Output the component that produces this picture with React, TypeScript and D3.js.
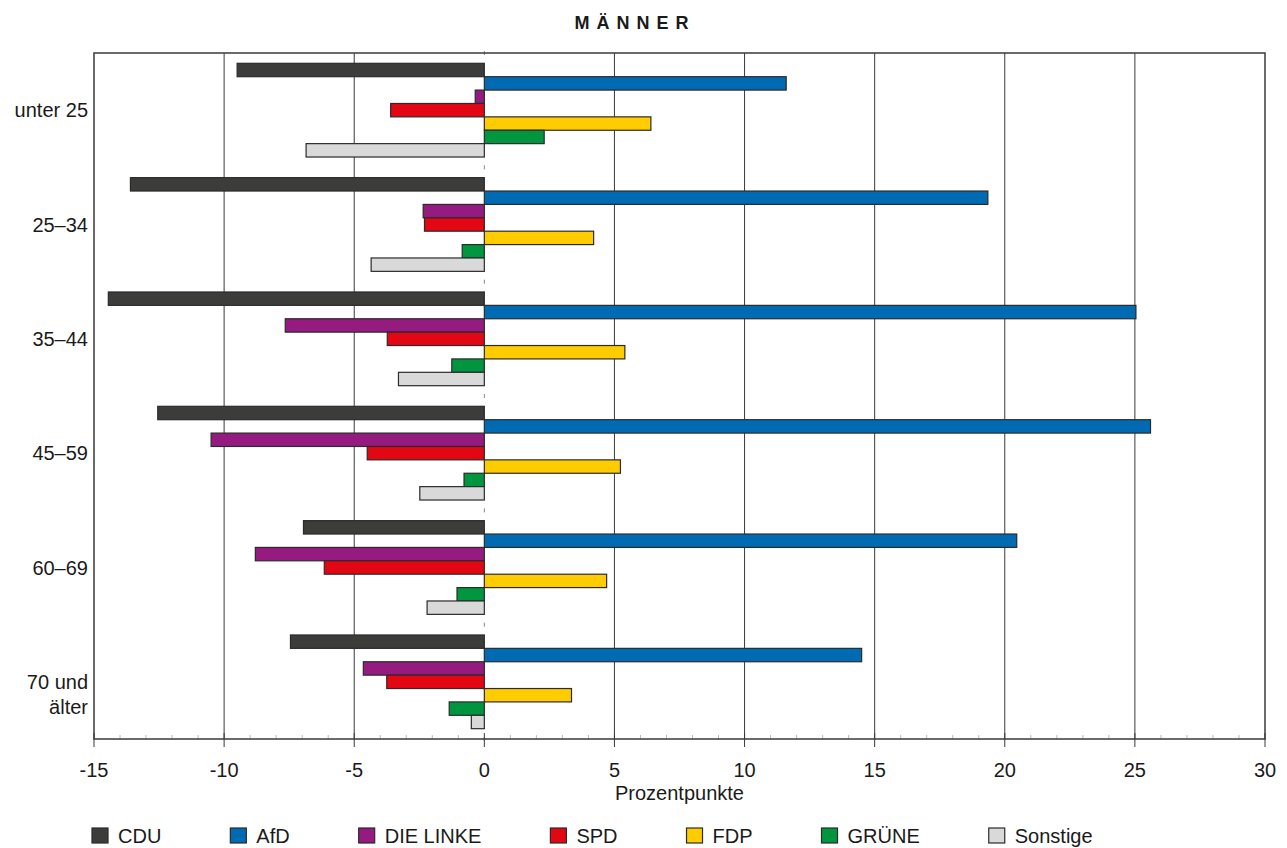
import React, { useEffect, useRef } from "react";
import * as d3 from "d3";

const categories = ["unter 25", "25–34", "35–44", "45–59", "60–69", "70 und\nälter"];
const parties = ["CDU", "AfD", "DIE LINKE", "SPD", "FDP", "GRÜNE", "Sonstige"];
const colors = ["#3c3c3b", "#006ab3", "#951b81", "#e30613", "#ffcc00", "#009640", "#d9d9d9"];

const cdu = [-9.5, -13.6, -14.45, -12.55, -6.95, -7.45];
const afd = [11.6, 19.35, 25.04, 25.6, 20.46, 14.5];
const linke = [-0.35, -2.35, -7.65, -10.5, -8.8, -4.65];
const spd = [-3.6, -2.3, -3.73, -4.5, -6.15, -3.75];
const fdp = [6.4, 4.2, 5.4, 5.23, 4.7, 3.35];
const gruene = [2.3, -0.85, -1.25, -0.78, -1.05, -1.35];
const sonstige = [-6.85, -4.35, -3.3, -2.48, -2.2, -0.5];

const seriesValues = [cdu, afd, linke, spd, fdp, gruene, sonstige];
const xTicks = [-15, -10, -5, 0, 5, 10, 15, 20, 25, 30];

const title = "MÄNNER";
const xLabel = "Prozentpunkte";

export default function App() {
  const ref = useRef<SVGSVGElement>(null);

  useEffect(() => {
    document.body.style.margin = "0";
    const svg = d3.select(ref.current);
    svg.selectAll("*").remove();
    const font = "'Liberation Sans', Arial, sans-serif";
    const fs = 20;

    const left = 94, right = 1265, top = 53, bottom = 739;
    const x = d3.scaleLinear().domain([-15, 30]).range([left, right]);
    const y = d3.scaleBand<string>().domain(categories).range([top, bottom]).padding(0);
    const yi = d3.scaleBand<string>().domain(parties).range([0, y.bandwidth()]).paddingInner(0).paddingOuter(0.77);

    // minor ticks
    const minor = d3.range(-15, 31, 1).filter((v) => v % 5 !== 0);
    svg.append("g").selectAll("line").data(minor).join("line")
      .attr("x1", (d) => x(d)).attr("x2", (d) => x(d))
      .attr("y1", bottom - 4).attr("y2", bottom)
      .attr("stroke", "#bbb").attr("stroke-width", 1);

    // gridlines
    svg.append("g").selectAll("line").data(xTicks.filter((d) => d !== 0 && d !== -15 && d !== 30)).join("line")
      .attr("x1", (d) => x(d)).attr("x2", (d) => x(d))
      .attr("y1", top).attr("y2", bottom)
      .attr("stroke", "#3a3a3a").attr("stroke-width", 1);

    // zero ticks at category boundaries
    const bounds = categories.map((c) => y(c)!).concat([bottom]);
    svg.append("g").selectAll("line").data(bounds).join("line")
      .attr("x1", x(0)).attr("x2", x(0))
      .attr("y1", (d) => d - 2).attr("y2", (d) => d + 2)
      .attr("stroke", "#888").attr("stroke-width", 1);

    // bars
    parties.forEach((p, si) => {
      svg.append("g").selectAll("rect").data(seriesValues[si]).join("rect")
        .attr("x", (d) => x(Math.min(0, d)))
        .attr("width", (d) => Math.abs(x(d) - x(0)))
        .attr("y", (_d, i) => y(categories[i])! + yi(p)!)
        .attr("height", yi.bandwidth())
        .attr("fill", colors[si])
        .attr("stroke", "#2b2b2b")
        .attr("stroke-width", 1.2);
    });

    // frame
    svg.append("rect").attr("x", left).attr("y", top).attr("width", right - left).attr("height", bottom - top)
      .attr("fill", "none").attr("stroke", "#3a3a3a").attr("stroke-width", 1.5);

    // major ticks
    svg.append("g").selectAll("line").data(xTicks).join("line")
      .attr("x1", (d) => x(d)).attr("x2", (d) => x(d))
      .attr("y1", bottom - 6).attr("y2", bottom + 8)
      .attr("stroke", "#3a3a3a").attr("stroke-width", 1);

    svg.append("g").selectAll("text").data(xTicks).join("text")
      .attr("x", (d) => x(d)).attr("y", 777)
      .attr("text-anchor", "middle").attr("font-family", font).attr("font-size", fs).attr("fill", "#1a1a1a")
      .text((d) => String(d));

    svg.append("text").attr("x", (left + right) / 2).attr("y", 800)
      .attr("text-anchor", "middle").attr("font-family", font).attr("font-size", fs).attr("fill", "#1a1a1a")
      .text(xLabel);

    // category labels
    categories.forEach((c) => {
      const lines = c.split("\n");
      const cy = y(c)! + y.bandwidth() / 2;
      const t = svg.append("text").attr("x", 88).attr("y", cy + 7)
        .attr("text-anchor", "end").attr("font-family", font).attr("font-size", fs).attr("fill", "#1a1a1a");
      lines.forEach((l, i) => {
        t.append("tspan").attr("x", 88).attr("dy", i === 0 ? 0 : 25).text(l);
      });
    });

    // title
    svg.append("text").attr("x", 635).attr("y", 29)
      .attr("text-anchor", "middle").attr("font-family", font).attr("font-size", 18).attr("font-weight", "bold")
      .attr("letter-spacing", 7).attr("fill", "#1a1a1a")
      .text(title);

    // legend
    let lx = 92;
    const ly = 828;
    parties.forEach((p, si) => {
      const g = svg.append("g");
      g.append("rect").attr("x", lx).attr("y", ly).attr("width", 16).attr("height", 15)
        .attr("fill", colors[si]).attr("stroke", "#2b2b2b").attr("stroke-width", 1.2);
      const t = g.append("text").attr("x", lx + 26).attr("y", ly + 15)
        .attr("font-family", font).attr("font-size", fs).attr("fill", "#1a1a1a").text(p);
      const w = (t.node() as SVGTextElement).getComputedTextLength();
      lx += 26 + w + 69;
    });
  }, []);

  return <svg ref={ref} width={1287} height={848} style={{ display: "block", background: "#fff" }} />;
}
